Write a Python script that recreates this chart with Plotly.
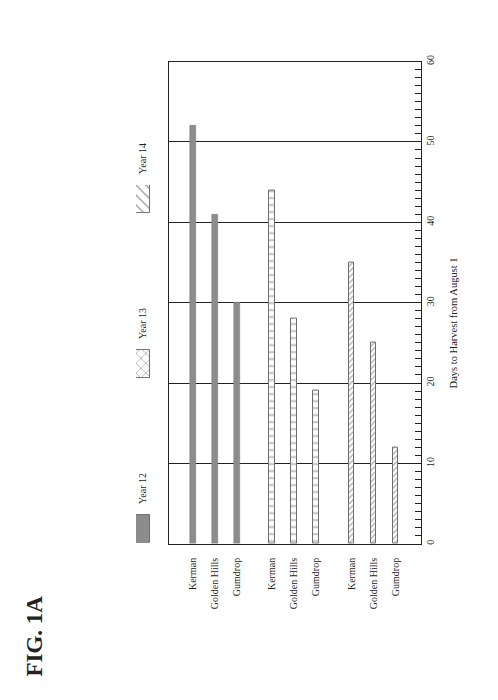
import plotly.graph_objects as go

# ---- data ----
varieties = ["Kerman", "Golden Hills", "Gumdrop"]
years = ["Year 12", "Year 13", "Year 14"]
year12 = [52, 41, 30]
year13 = [44, 28, 19]
year14 = [35, 25, 12]
series = [year12, year13, year14]

# ---- layout helpers (window pixel -> paper) ----
OFF = 8  # default body margin of the html page
W, H = 498 - OFF, 700 - OFF
ML, MR, MT, MB = 12, 12, 12, 12
PW, PH = W - ML - MR, H - MT - MB


def px_x(x):
    return (x - OFF - ML) / PW


def px_y(y):
    return (H - MB - (y - OFF)) / PH


GROUP_GAP = 3.6
positions = [[g * GROUP_GAP + i for i in range(len(varieties))] for g in range(len(years))]

styles = [
    dict(color="#8c8c8c", line=dict(color="#7a7a7a", width=0.5)),
    dict(color="white", line=dict(color="#6e6e6e", width=1),
         pattern=dict(shape="-", size=7, solidity=0.25, fgcolor="#6e6e6e", bgcolor="white")),
    dict(color="white", line=dict(color="#6e6e6e", width=1),
         pattern=dict(shape="/", size=4, solidity=0.3, fgcolor="#555555", bgcolor="white")),
]

fig = go.Figure()
for g, (name, vals) in enumerate(zip(years, series)):
    fig.add_trace(go.Bar(x=positions[g], y=vals, name=name, width=0.26,
                         marker=styles[g], showlegend=False))

# legend swatches on a hidden axis pair
fig.add_trace(go.Bar(
    x=[1, 1, 1], y=[0, 1, 2], orientation="h", width=0.168,
    marker=dict(color=["#8c8c8c", "white", "white"],
                line=dict(color="#6e6e6e", width=1),
                pattern=dict(shape=["", "x", "\\"], size=7, solidity=0.2,
                             fgcolor="#555555")),
    xaxis="x2", yaxis="y2", showlegend=False, hoverinfo="skip"))

tickvals = [p for grp in positions for p in grp]
ticktext = varieties * len(years)

serif = "Liberation Serif, Times New Roman, serif"

fig.update_layout(
    width=W, height=H,
    margin=dict(l=ML, r=MR, t=MT, b=MB),
    paper_bgcolor="white", plot_bgcolor="white",
    font=dict(family=serif, size=10, color="#222"),
    bargap=0,
    xaxis=dict(domain=[px_x(169), px_x(421)], range=[-1.09, 10.36],
               tickvals=tickvals, ticktext=ticktext, tickangle=-90,
               showgrid=False, zeroline=False, ticks="",
               showline=True, mirror=True, linecolor="#222", linewidth=1.2,
               ticklabelstandoff=9, tickfont=dict(family=serif, size=10, color="#222"),
               anchor="y"),
    yaxis=dict(domain=[px_y(543), px_y(55)], range=[0, 60], side="right",
               dtick=10, tick0=0, ticks="inside", ticklen=6, tickcolor="#222",
               minor=dict(dtick=1, ticks="inside", ticklen=6, tickcolor="#222", showgrid=False),
               showgrid=True, gridcolor="#222", gridwidth=1, zeroline=False,
               showline=True, mirror=True, linecolor="#222", linewidth=1.2,
               tickangle=-90, tickfont=dict(family=serif, size=10, color="#222"),
               anchor="x"),
    xaxis2=dict(domain=[px_x(136), px_x(150)], range=[0, 1], visible=False,
                anchor="y2", fixedrange=True),
    yaxis2=dict(domain=[px_y(542), px_y(180)], range=[-0.084, 2.084], visible=False,
                anchor="x2", fixedrange=True),
)

# legend labels
for i, name in enumerate(years):
    fig.add_annotation(x=0.5, y=i, xref="x2", yref="y2", yshift=40,
                       xanchor="center", yanchor="middle",
                       text=name, textangle=-90, showarrow=False,
                       font=dict(family=serif, size=10, color="#222"))

# axis title
fig.add_annotation(x=px_x(453), y=px_y(320), xref="paper", yref="paper",
                   xanchor="center", yanchor="middle",
                   text="Days to Harvest from August 1", textangle=-90, showarrow=False,
                   font=dict(family=serif, size=10.5, color="#222"))

# figure label
fig.add_annotation(x=px_x(35), y=px_y(637), xref="paper", yref="paper",
                   xanchor="center", yanchor="middle",
                   text="<b>FIG. 1A</b>", textangle=-90, showarrow=False,
                   font=dict(family=serif, size=23, color="#222"))

fig.write_html("out.html")
